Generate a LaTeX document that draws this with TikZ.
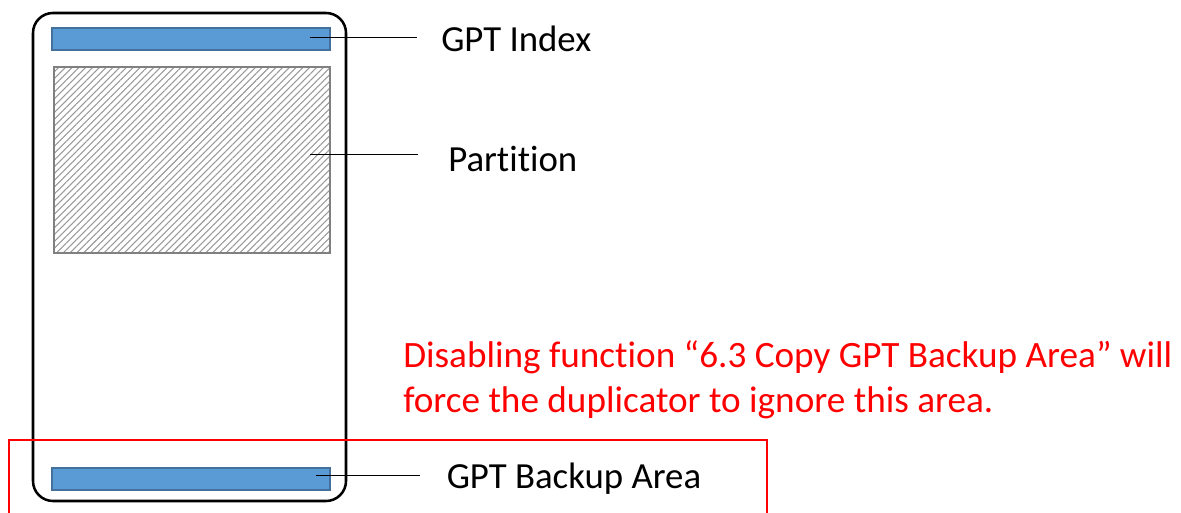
\documentclass[tikz,border=0pt]{standalone}
\usepackage{fontspec}
\setmainfont{Carlito}[Ligatures=NoCommon]
\usetikzlibrary{patterns.meta}
\definecolor{barfill}{HTML}{5B9BD5}
\definecolor{barline}{HTML}{41719C}
\definecolor{hatchgray}{HTML}{999999}
\definecolor{partline}{HTML}{808080}
\begin{document}
\begin{tikzpicture}[x=0.75pt,y=-0.75pt,
  bar/.style={draw=barline,fill=barfill,line width=1.1pt,minimum width=208.5pt,minimum height=16.5pt,inner sep=0pt},
  lbl/.style={anchor=base west,inner sep=0pt,font=\fontsize{27.6}{33}\selectfont},
  note/.style={anchor=base west,inner sep=0pt,text=red,font=\fontsize{27.9}{33}\selectfont},
  leader/.style={draw=black,line width=0.75pt}]
\useasboundingbox (0,0) rectangle (1181,513);
% outer device
\node[draw=black,line width=1.9pt,rounded corners=15pt,minimum width=234.75pt,minimum height=366pt,inner sep=0pt] (dev) at (189.5,257) {};
% bars
\node[bar] (idx) at (191,39) {};
\node[bar] (bak) at (191,479) {};
% partition
\node[draw=partline,line width=1.5pt,fill=white,
  pattern={Lines[angle=45,distance=3.6pt,line width=0.8pt]},pattern color=hatchgray,
  minimum width=207pt,minimum height=139.5pt,inner sep=0pt] (part) at (192,160) {};
% labels
\node[lbl] (lidx) at (441,52) {GPT Index};
\node[lbl] (lpart) at (448,171.5) {Partition};
\node[lbl] (lbak) at (446.5,488.5) {GPT Backup Area};
\node[note] (n1) at (403,367) {Disabling function “6.3 Copy GPT Backup Area” will};
\node[note] (n2) at (403,412) {force the duplicator to ignore this area.};
% leader coordinates
\coordinate (a1) at (310,37.5); \coordinate (b1) at (417,37.5);
\coordinate (a2) at (310,155); \coordinate (b2) at (418,155);
\coordinate (a3) at (316,475); \coordinate (b3) at (420,475);
\draw[leader] (a1) -- (b1);
\draw[leader] (a2) -- (b2);
\draw[leader] (a3) -- (b3);
% red bracket
\coordinate (r1) at (9,515); \coordinate (r2) at (9,440);
\coordinate (r3) at (767,440); \coordinate (r4) at (767,515);
\draw[red,line width=2.1pt] (r1) -- (r2) -- (r3) -- (r4);
\end{tikzpicture}
\end{document}
